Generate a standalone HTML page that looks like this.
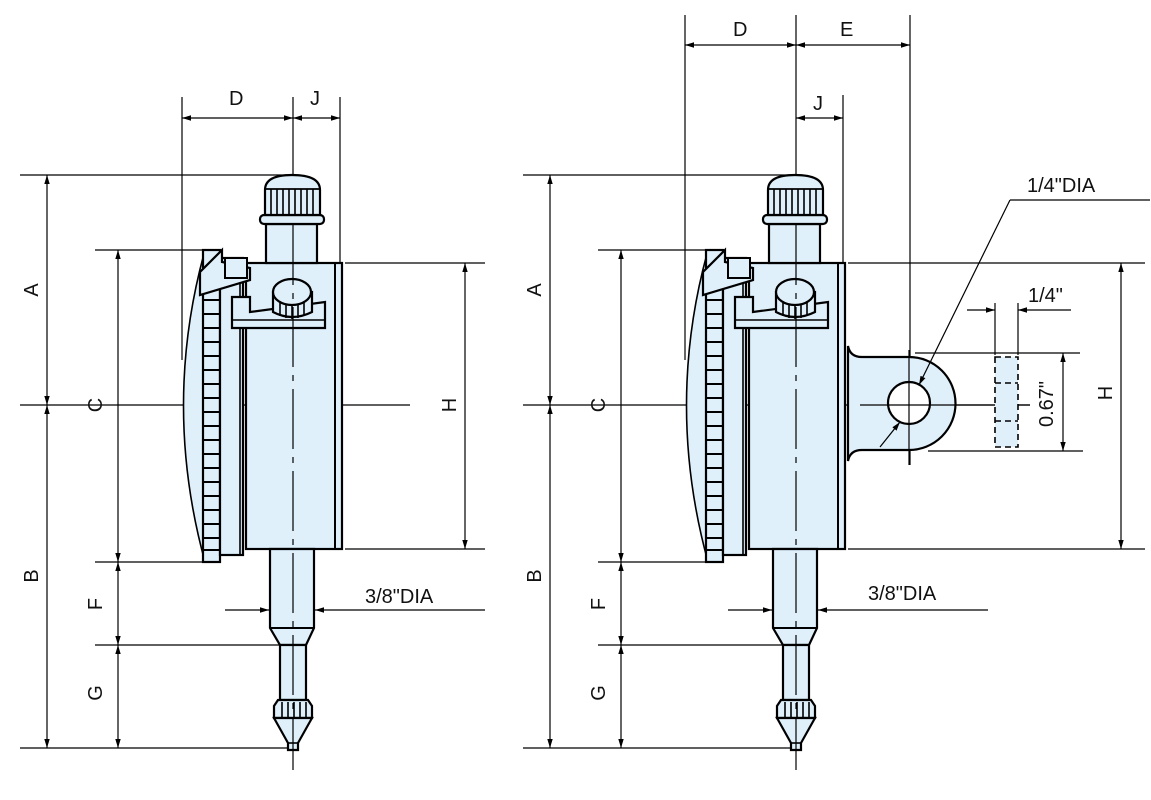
<!DOCTYPE html>
<html><head><meta charset="utf-8"><style>
html,body{margin:0;padding:0;background:#fff;}
svg{display:block;}
text{font-family:"Liberation Sans",sans-serif;font-size:20px;fill:#111;}
</style></head><body>
<svg width="1151" height="800" viewBox="0 0 1151 800" xmlns="http://www.w3.org/2000/svg">
<defs>
<marker id="ar" viewBox="0 0 10 10" refX="10" refY="5" markerWidth="9" markerHeight="9" orient="auto-start-reverse" markerUnits="userSpaceOnUse"><path d="M0,2 L10,5 L0,8 z" fill="#000"/></marker>
<g id="gauge">
 <path d="M205,250 Q162,405 205,562 L215,562 L215,250 Z" fill="#dff0fb" stroke="#000" stroke-width="1.6"/>
 <rect x="203" y="250" width="17" height="312" fill="#dff0fb" stroke="#000" stroke-width="2.2"/>
 <rect x="220" y="258" width="23" height="297" fill="#dff0fb" stroke="#000" stroke-width="2.2"/>
 <line x1="240" y1="258" x2="240" y2="555" stroke="#000" stroke-width="1.6"/>
 <g stroke="#000" stroke-width="2">
  <line x1="203" y1="300" x2="220" y2="300"/><line x1="203" y1="314" x2="220" y2="314"/><line x1="203" y1="328" x2="220" y2="328"/><line x1="203" y1="342" x2="220" y2="342"/><line x1="203" y1="356" x2="220" y2="356"/><line x1="203" y1="370" x2="220" y2="370"/><line x1="203" y1="384" x2="220" y2="384"/><line x1="203" y1="398" x2="220" y2="398"/><line x1="203" y1="412" x2="220" y2="412"/><line x1="203" y1="426" x2="220" y2="426"/><line x1="203" y1="440" x2="220" y2="440"/><line x1="203" y1="454" x2="220" y2="454"/><line x1="203" y1="468" x2="220" y2="468"/><line x1="203" y1="482" x2="220" y2="482"/><line x1="203" y1="496" x2="220" y2="496"/><line x1="203" y1="510" x2="220" y2="510"/><line x1="203" y1="524" x2="220" y2="524"/><line x1="203" y1="538" x2="220" y2="538"/><line x1="203" y1="550" x2="220" y2="550"/>
 </g>
 <rect x="246" y="263" width="96" height="286" fill="#dff0fb" stroke="#000" stroke-width="2.2"/>
 <line x1="335" y1="263" x2="335" y2="549" stroke="#000" stroke-width="2"/>
 <path d="M200,272 L200,295 L250,280 L250,268 L222,262 L222,250 Z" fill="#dff0fb" stroke="#000" stroke-width="2.2"/>
 <rect x="225" y="258" width="22" height="20" fill="#dff0fb" stroke="#000" stroke-width="2"/>
 <path d="M232,297 L250,297 L250,312 L325,302 L325,328 L232,328 Z" fill="#dff0fb" stroke="#000" stroke-width="2.2"/>
 <line x1="232" y1="320" x2="325" y2="320" stroke="#000" stroke-width="1.6"/>
 <path d="M273,292 L273,312 Q292,322 312,312 L312,292 Z" fill="#dff0fb" stroke="#000" stroke-width="2.2"/>
 <ellipse cx="292" cy="292" rx="19" ry="13" fill="#dff0fb" stroke="#000" stroke-width="2.2"/>
 <g stroke="#000" stroke-width="1.6"><line x1="280" y1="302" x2="280" y2="316"/><line x1="286" y1="304" x2="286" y2="318"/><line x1="292" y1="305" x2="292" y2="319"/><line x1="298" y1="304" x2="298" y2="318"/><line x1="304" y1="302" x2="304" y2="316"/></g>
 <rect x="266" y="224" width="51" height="39" fill="#dff0fb" stroke="#000" stroke-width="2.2"/>
 <rect x="260" y="215" width="64" height="9" rx="4" fill="#dff0fb" stroke="#000" stroke-width="2.2"/>
 <path d="M265,190 Q265,175 292,175 Q320,175 320,190 L320,215 L265,215 Z" fill="#dff0fb" stroke="#000" stroke-width="2.2"/>
 <line x1="265" y1="189" x2="320" y2="189" stroke="#000" stroke-width="1.8"/>
 <g stroke="#000" stroke-width="1.6"><line x1="271" y1="189" x2="271" y2="215"/><line x1="277" y1="189" x2="277" y2="215"/><line x1="283" y1="189" x2="283" y2="215"/><line x1="289" y1="189" x2="289" y2="215"/><line x1="295" y1="189" x2="295" y2="215"/><line x1="301" y1="189" x2="301" y2="215"/><line x1="307" y1="189" x2="307" y2="215"/><line x1="313" y1="189" x2="313" y2="215"/></g>
 <path d="M270,549 L314,549 L314,628 L306,645 L280,645 L270,628 Z" fill="#dff0fb" stroke="#000" stroke-width="2.2"/>
 <line x1="270" y1="628" x2="314" y2="628" stroke="#000" stroke-width="2"/>
 <rect x="280" y="645" width="26" height="55" fill="#dff0fb" stroke="#000" stroke-width="2.2"/>
 <path d="M278,700 L308,700 L312,706 L312,718 L274,718 L274,706 Z" fill="#dff0fb" stroke="#000" stroke-width="2.2"/>
 <g stroke="#000" stroke-width="1.6"><line x1="282" y1="702" x2="282" y2="718"/><line x1="288" y1="702" x2="288" y2="718"/><line x1="294" y1="702" x2="294" y2="718"/><line x1="300" y1="702" x2="300" y2="718"/><line x1="306" y1="702" x2="306" y2="718"/></g>
 <path d="M274,718 L312,718 L298,743 L298,750 L288,750 L288,743 Z" fill="#dff0fb" stroke="#000" stroke-width="2.2"/>
 <line x1="288" y1="743" x2="298" y2="743" stroke="#000" stroke-width="1.6"/>
 <line x1="293" y1="225" x2="293" y2="770" stroke="#000" stroke-width="1.2" stroke-dasharray="60,8,6,8"/>
</g>
</defs>

<g stroke="#000" stroke-width="1.2" fill="none">
<line x1="182" y1="97" x2="182" y2="360"/><line x1="340" y1="97" x2="340" y2="262"/><line x1="293" y1="97" x2="293" y2="230"/>
<line x1="182" y1="118" x2="293" y2="118" marker-start="url(#ar)" marker-end="url(#ar)"/>
<line x1="293" y1="118" x2="340" y2="118" marker-start="url(#ar)" marker-end="url(#ar)"/>
<line x1="20" y1="175" x2="290" y2="175"/><line x1="20" y1="405" x2="410" y2="405"/>
<line x1="95" y1="250" x2="205" y2="250"/><line x1="95" y1="562" x2="205" y2="562"/>
<line x1="95" y1="645" x2="290" y2="645"/><line x1="20" y1="748" x2="288" y2="748"/>
<line x1="345" y1="263" x2="485" y2="263"/><line x1="345" y1="549" x2="485" y2="549"/>
<line x1="47" y1="175" x2="47" y2="405" marker-start="url(#ar)" marker-end="url(#ar)"/>
<line x1="47" y1="405" x2="47" y2="748" marker-start="url(#ar)" marker-end="url(#ar)"/>
<line x1="118" y1="250" x2="118" y2="562" marker-start="url(#ar)" marker-end="url(#ar)"/>
<line x1="118" y1="562" x2="118" y2="645" marker-start="url(#ar)" marker-end="url(#ar)"/>
<line x1="118" y1="645" x2="118" y2="748" marker-start="url(#ar)" marker-end="url(#ar)"/>
<line x1="465" y1="263" x2="465" y2="549" marker-start="url(#ar)" marker-end="url(#ar)"/>
<line x1="225" y1="610" x2="269" y2="610" marker-end="url(#ar)"/>
<line x1="485" y1="610" x2="315" y2="610" marker-end="url(#ar)"/>

<line x1="685" y1="15" x2="685" y2="360"/><line x1="910" y1="15" x2="910" y2="465"/><line x1="796" y1="15" x2="796" y2="230"/><line x1="843" y1="95" x2="843" y2="262"/>
<line x1="685" y1="45" x2="796" y2="45" marker-start="url(#ar)" marker-end="url(#ar)"/>
<line x1="796" y1="45" x2="910" y2="45" marker-start="url(#ar)" marker-end="url(#ar)"/>
<line x1="796" y1="118" x2="843" y2="118" marker-start="url(#ar)" marker-end="url(#ar)"/>
<line x1="523" y1="175" x2="793" y2="175"/><line x1="523" y1="405" x2="1030" y2="405"/>
<line x1="598" y1="250" x2="708" y2="250"/><line x1="598" y1="562" x2="708" y2="562"/>
<line x1="598" y1="645" x2="793" y2="645"/><line x1="523" y1="748" x2="791" y2="748"/>
<line x1="848" y1="263" x2="1145" y2="263"/><line x1="848" y1="549" x2="1145" y2="549"/>
<line x1="550" y1="175" x2="550" y2="405" marker-start="url(#ar)" marker-end="url(#ar)"/>
<line x1="550" y1="405" x2="550" y2="748" marker-start="url(#ar)" marker-end="url(#ar)"/>
<line x1="621" y1="250" x2="621" y2="562" marker-start="url(#ar)" marker-end="url(#ar)"/>
<line x1="621" y1="562" x2="621" y2="645" marker-start="url(#ar)" marker-end="url(#ar)"/>
<line x1="621" y1="645" x2="621" y2="748" marker-start="url(#ar)" marker-end="url(#ar)"/>
<line x1="1121" y1="263" x2="1121" y2="549" marker-start="url(#ar)" marker-end="url(#ar)"/>
<line x1="728" y1="610" x2="772" y2="610" marker-end="url(#ar)"/>
<line x1="988" y1="610" x2="818" y2="610" marker-end="url(#ar)"/>
<line x1="995" y1="303" x2="995" y2="355"/><line x1="1018" y1="303" x2="1018" y2="355"/>
<line x1="967" y1="310" x2="995" y2="310" marker-end="url(#ar)"/>
<line x1="1071" y1="310" x2="1018" y2="310" marker-end="url(#ar)"/>
<line x1="915" y1="353" x2="1080" y2="353"/><line x1="928" y1="451" x2="1083" y2="451"/>
<line x1="1063" y1="353" x2="1063" y2="451" marker-start="url(#ar)" marker-end="url(#ar)"/>
</g>

<use href="#gauge"/>
<path d="M848,346 Q850,357 862,357 L909,357 A46.5,46.5 0 0 1 909,450 L862,450 Q850,450 848,461 Z" fill="#dff0fb" stroke="#000" stroke-width="2.2"/>
<use href="#gauge" transform="translate(503,0)"/>
<circle cx="909" cy="403" r="21" fill="#fff" stroke="#000" stroke-width="2.2"/>
<g stroke="#000" stroke-width="1.2" fill="none">
<line x1="909" y1="350" x2="909" y2="465"/><line x1="860" y1="405" x2="1030" y2="405"/>
<line x1="1150" y1="200" x2="1010" y2="200"/>
<line x1="1010" y1="200" x2="919" y2="385" marker-end="url(#ar)"/>
<line x1="880" y1="447" x2="900" y2="422" marker-end="url(#ar)"/>
</g>
<rect x="995" y="357" width="23" height="90" fill="#dff0fb" stroke="#000" stroke-width="1.6" stroke-dasharray="6,4"/>
<g stroke="#000" stroke-width="1.6" stroke-dasharray="6,4"><line x1="995" y1="383" x2="1018" y2="383"/><line x1="995" y1="421" x2="1018" y2="421"/></g>

<text x="229" y="105">D</text><text x="310" y="105">J</text>
<text x="733" y="36">D</text><text x="840" y="36">E</text><text x="813" y="110">J</text>
<text x="1027" y="192">1/4"DIA</text><text x="1028" y="302">1/4"</text>
<text x="365" y="603">3/8"DIA</text><text x="868" y="600">3/8"DIA</text>
<g>
<text transform="translate(38,290) rotate(-90)" text-anchor="middle">A</text>
<text transform="translate(38,576) rotate(-90)" text-anchor="middle">B</text>
<text transform="translate(102,405) rotate(-90)" text-anchor="middle">C</text>
<text transform="translate(102,604) rotate(-90)" text-anchor="middle">F</text>
<text transform="translate(102,693) rotate(-90)" text-anchor="middle">G</text>
<text transform="translate(456,405) rotate(-90)" text-anchor="middle">H</text>
<text transform="translate(541,290) rotate(-90)" text-anchor="middle">A</text>
<text transform="translate(541,576) rotate(-90)" text-anchor="middle">B</text>
<text transform="translate(605,405) rotate(-90)" text-anchor="middle">C</text>
<text transform="translate(605,604) rotate(-90)" text-anchor="middle">F</text>
<text transform="translate(605,693) rotate(-90)" text-anchor="middle">G</text>
<text transform="translate(1112,393) rotate(-90)" text-anchor="middle">H</text>
<text transform="translate(1053,404) rotate(-90)" text-anchor="middle">0.67"</text>
</g>
</svg>
</body></html>
